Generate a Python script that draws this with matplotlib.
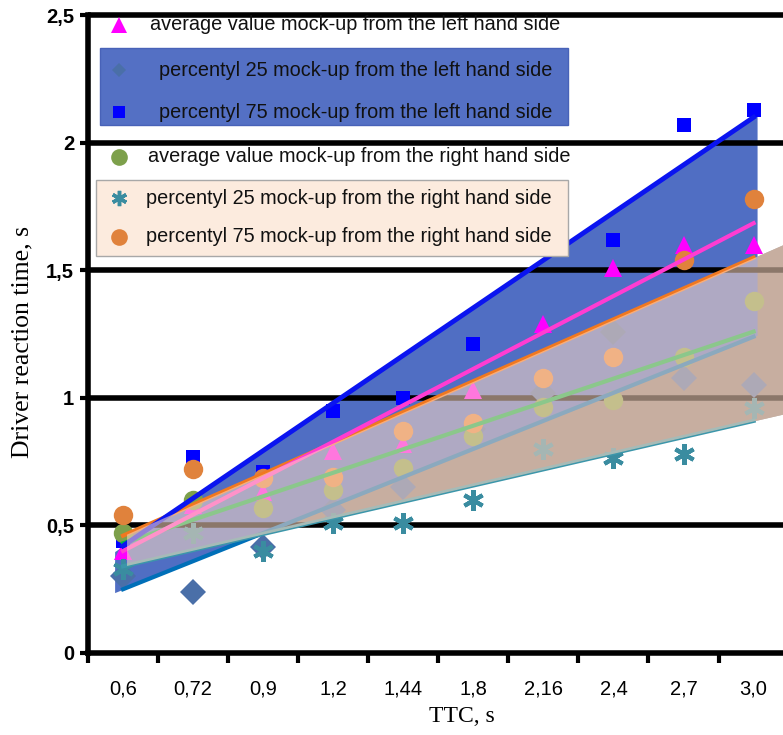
import numpy as np
import matplotlib
matplotlib.use("Agg")
import matplotlib.pyplot as plt
from matplotlib.lines import Line2D
from matplotlib.patches import Rectangle

# TTC categories
ttc = ["0,6", "0,72", "0,9", "1,2", "1,44", "1,8", "2,16", "2,4", "2,7", "3,0"]

# driver reaction time, s
avg_left = [0.40, 0.58, 0.63, 0.79, 0.82, 1.03, 1.29, 1.51, 1.60, 1.60]
p25_left = [0.30, 0.24, 0.415, 0.56, 0.65, 0.88, 1.02, 1.26, 1.08, 1.05]
p75_left = [0.44, 0.77, 0.71, 0.95, 1.00, 1.21, 1.60, 1.62, 2.07, 2.13]
avg_right = [0.47, 0.60, 0.57, 0.64, 0.725, 0.85, 0.965, 0.99, 1.16, 1.38]
p25_right = [0.33, 0.47, 0.40, 0.51, 0.51, 0.60, 0.80, 0.765, 0.78, 0.96]
p75_right = [0.54, 0.72, 0.685, 0.69, 0.87, 0.90, 1.08, 1.16, 1.54, 1.78]

# trend line values at TTC 0,6 and 3,0
tr_avg_left = [0.40, 1.685]
tr_p25_left = [0.25, 1.24]
tr_p75_left = [0.42, 2.10]
tr_avg_right = [0.43, 1.26]
tr_p25_right = [0.34, 0.91]
tr_p75_right = [0.46, 1.55]

y_ticks = [0, 0.5, 1, 1.5, 2, 2.5]
y_labels = ["0", "0,5", "1", "1,5", "2", "2,5"]

legend_labels = [
    "average value mock-up from the left hand side",
    "percentyl 25 mock-up from the left hand side",
    "percentyl 75 mock-up from the left hand side",
    "average value mock-up from the right hand side",
    "percentyl 25 mock-up from the right hand side",
    "percentyl 75 mock-up from the right hand side",
]

W, H = 783, 735
fig = plt.figure(figsize=(W / 100, H / 100), dpi=100)
ax = fig.add_axes([88 / W, 1 - 653 / H, 1 - 88 / W, 653 / H])
x = np.arange(len(ttc))
ax.set_xlim(-0.5, 9.42)
ax.set_ylim(0, 2.56)


def trend(ends, xs):
    # straight line through the two end values
    return ends[0] + (ends[1] - ends[0]) * xs / (len(ttc) - 1)


xb = np.linspace(-0.12, 9.05, 400)
xr = np.linspace(0.05, 9.5, 400)

# bands
ax.fill_between(xr, trend(tr_p25_right, xr), trend(tr_p75_right, xr),
                color="#857a76", lw=0, zorder=1)
ax.fill_between(xb, trend(tr_p25_left, xb), trend(tr_p75_left, xb),
                color="#506ec3", lw=0, zorder=1.2)

for yv in y_ticks[1:]:
    ax.axhline(yv, color="black", lw=4, zorder=1.5)

# points
ax.plot(x, avg_left, "^", color="#ff00ff", ms=13, mew=0, zorder=3)
ax.plot(x, p25_left, "D", color="#4a6fa8", ms=13, mew=0, zorder=3)
ax.plot(x, p75_left, "s", color="#0000ff", ms=10.5, mew=0, zorder=3)
ax.plot(x, avg_right, "o", color="#7da04b", ms=14, mew=0, zorder=3)
ax.plot(x, p25_right, marker=(6, 2, 0), ls="none", color="#3a8ca0", ms=15, mew=3, zorder=3)
ax.plot(x, p75_right, "o", color="#e0823c", ms=14, mew=0, zorder=3)

# trend lines
xl = np.array([0, len(ttc) - 1])
ax.plot(xl, trend(tr_p25_left, xl), color="#006fb8", lw=3, zorder=3.5)
ax.plot(xl, trend(tr_p25_right, xl), color="#3c96aa", lw=3, zorder=3.5)
ax.plot(xl, trend(tr_avg_right, xl), color="#00b248", lw=3, zorder=3.5)
ax.plot(xl, trend(tr_p75_right, xl), color="#f07820", lw=3, zorder=3.5)
ax.plot(xl, trend(tr_avg_left, xl), color="#ff3cd2", lw=3, zorder=3.5)
ax.plot(xl, trend(tr_p75_left, xl), color="#0a14f0", lw=3.5, zorder=3.5)

# light overlay of the right hand band
ax.fill_between(xr, trend(tr_p25_right, xr), trend(tr_p75_right, xr),
                color="#ffdac3", alpha=0.55, lw=0, zorder=4)

for s in ["top", "right"]:
    ax.spines[s].set_visible(False)
ax.spines["left"].set_linewidth(4)
ax.spines["bottom"].set_linewidth(4)
ax.spines["left"].set_bounds(0, 2.5)

ax.set_xticks(np.arange(-0.5, 9, 1))
ax.set_xticks(x, minor=True)
ax.set_xticklabels(ttc, minor=True, family="Liberation Sans", fontsize=14.5)
ax.tick_params(axis="x", which="major", length=7, width=3, labelbottom=False)
ax.tick_params(axis="x", which="minor", length=0, pad=19)
ax.set_yticks(y_ticks)
ax.set_yticklabels(y_labels, family="Liberation Sans", fontweight="bold", fontsize=14.5)
ax.tick_params(axis="y", length=6, width=3, pad=4)

ax.set_xlabel("TTC, s", family="Liberation Serif", fontsize=17)
ax.set_ylabel("Driver reaction time, s", family="Liberation Serif", fontsize=18.5)
ax.xaxis.set_label_coords((462 - 88) / 695, (653 - 706) / 653)
ax.yaxis.set_label_coords((33 - 88) / 695, (653 - 342) / 653)


def fx(px):
    return px / W


def fy(py):
    return 1 - py / H


# legend drawn by hand on top of the plot
fig.add_artist(Rectangle((fx(100), fy(125)), (568 - 100) / W, 77 / H, transform=fig.transFigure,
                         facecolor="#5470c4", edgecolor="#4862b8", lw=1, zorder=5))
fig.add_artist(Rectangle((fx(96), fy(256)), (568 - 96) / W, 76 / H, transform=fig.transFigure,
                         facecolor="#fcebde", edgecolor="#a8a8a8", lw=1, zorder=5))

rows_y = [25, 70, 112, 157, 198, 237]
text_x = [150, 159, 159, 148, 146, 146]
leg_styles = [
    dict(marker="^", color="#ff00ff", ms=11, mew=0),
    dict(marker="D", color="#4a6fa8", ms=7, mew=0),
    dict(marker="s", color="#0000ff", ms=9, mew=0),
    dict(marker="o", color="#7da04b", ms=12, mew=0),
    dict(marker=(6, 2, 0), color="#3a8ca0", ms=11, mew=2.5),
    dict(marker="o", color="#e0823c", ms=12, mew=0),
]
for lab, ry, tx, st in zip(legend_labels, rows_y, text_x, leg_styles):
    fig.add_artist(Line2D([fx(119)], [fy(ry)], ls="none", transform=fig.transFigure, zorder=6, **st))
    fig.text(fx(tx), fy(ry), lab, fontsize=14.3, family="Liberation Sans", color="#111111",
             va="center", ha="left", zorder=6)

fig.savefig("out.png", dpi=100)
